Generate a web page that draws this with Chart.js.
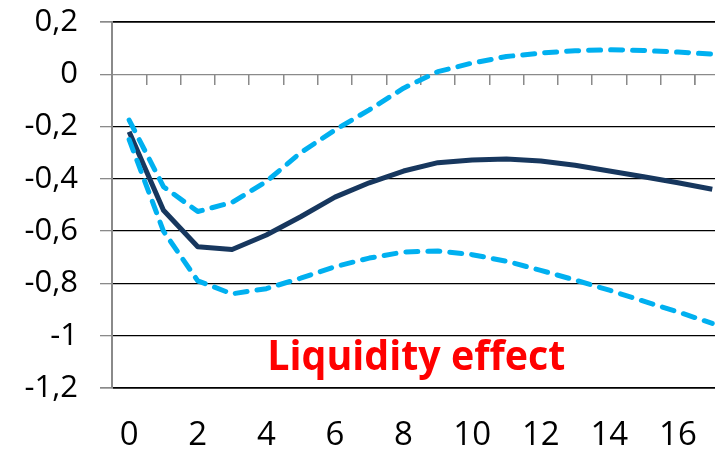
<!DOCTYPE html>
<html lang="en">
<head>
<meta charset="UTF-8" />
<title>Liquidity effect</title>
<script src="https://cdn.jsdelivr.net/npm/chart.js"></script>
<style>
  body { margin: 0; background: #fff; }
  .chart_container { width: 715px; height: 452px; }
</style>
</head>
<body>
<div class="chart_container"><canvas id="myChart"></canvas></div>
<script>
// impulse response, horizons 0..17
const horizons = [0, 1, 2, 3, 4, 5, 6, 7, 8, 9, 10, 11, 12, 13, 14, 15, 16, 17];
const response = [-0.22, -0.52, -0.66, -0.67, -0.615, -0.545, -0.47, -0.415, -0.37, -0.338, -0.328, -0.324, -0.332, -0.348, -0.37, -0.392, -0.415, -0.44];
const upperBand = [-0.175, -0.43, -0.525, -0.49, -0.41, -0.3, -0.213, -0.136, -0.053, 0.01, 0.043, 0.068, 0.081, 0.09, 0.094, 0.091, 0.085, 0.077];
const lowerBand = [-0.25, -0.6, -0.79, -0.84, -0.82, -0.78, -0.736, -0.703, -0.68, -0.676, -0.69, -0.715, -0.75, -0.787, -0.826, -0.868, -0.909, -0.953];

const xTickLabels = [0, 2, 4, 6, 8, 10, 12, 14, 16];
const yTickValues = [0.2, 0, -0.2, -0.4, -0.6, -0.8, -1, -1.2];

const toPoints = (arr) => horizons.map((h, i) => ({ x: h, y: arr[i] }));

const GRAY = '#8a8a8a';
const xMin = -0.5, xMax = 17.08;

const labelPlugin = {
  id: 'liquidityLabel',
  afterDraw(chart) {
    const { ctx, scales } = chart;
    ctx.save();
    ctx.fillStyle = '#ff0000';
    ctx.font = 'bold 41px "Open Sans", sans-serif';
    ctx.textAlign = 'center';
    ctx.textBaseline = 'alphabetic';
    ctx.fillText('Liquidity effect', scales.x.getPixelForValue(8.37), scales.y.getPixelForValue(-1.132), 298);
    ctx.restore();
  }
};

const config = {
  type: 'line',
  data: {
    datasets: [
      {
        label: 'Upper',
        data: toPoints(upperBand),
        borderColor: '#00b0f0',
        borderWidth: 5,
        borderDash: [12, 10],
        borderCapStyle: 'round',
        borderJoinStyle: 'round',
        pointRadius: 0,
        tension: 0
      },
      {
        label: 'Lower',
        data: toPoints(lowerBand),
        borderColor: '#00b0f0',
        borderWidth: 5,
        borderDash: [12, 10],
        borderCapStyle: 'round',
        borderJoinStyle: 'round',
        pointRadius: 0,
        tension: 0
      },
      {
        label: 'Response',
        data: toPoints(response),
        borderColor: '#17375e',
        borderWidth: 5,
        borderJoinStyle: 'round',
        pointRadius: 0,
        tension: 0
      }
    ]
  },
  options: {
    responsive: true,
    maintainAspectRatio: false,
    animation: false,
    layout: { padding: { top: 22, left: 0, right: 0, bottom: 0 } },
    plugins: {
      legend: { display: false },
      tooltip: { enabled: false }
    },
    scales: {
      x: {
        type: 'linear',
        position: 'bottom',
        min: xMin,
        max: xMax,
        afterBuildTicks: (scale) => {
          scale.ticks = xTickLabels.map((v) => ({ value: v }));
        },
        afterFit: (scale) => {
          scale.height = 64;
          scale.paddingLeft = 0;
          scale.paddingRight = 0;
        },
        grid: { display: false, drawTicks: false },
        border: { display: false },
        ticks: {
          color: '#000',
          font: { family: '"Open Sans", sans-serif', size: 33 },
          padding: 28,
          maxRotation: 0,
          autoSkip: false,
          callback: (v) => String(v)
        }
      },
      xMarks: {
        type: 'linear',
        position: { y: 0 },
        min: xMin,
        max: xMax,
        afterBuildTicks: (scale) => {
          scale.ticks = horizons.map((h) => ({ value: h - 0.5 })).concat([{ value: 16.5 }]).filter((t) => t.value > xMin);
        },
        grid: { drawOnChartArea: false, drawTicks: true, tickLength: 11, color: GRAY, lineWidth: 1.5 },
        border: { display: false },
        ticks: { display: false }
      },
      y: {
        min: -1.2,
        max: 0.2,
        afterBuildTicks: (scale) => {
          scale.ticks = yTickValues.map((v) => ({ value: v }));
        },
        afterFit: (scale) => {
          scale.width = 112;
          scale.paddingTop = 0;
          scale.paddingBottom = 0;
        },
        grid: {
          color: (ctx) => (ctx.tick && ctx.tick.value === 0 ? GRAY : '#000'),
          lineWidth: (ctx) => (ctx.tick && (ctx.tick.value === 0.2 || ctx.tick.value === -1.2) ? 1.7 : 1.3),
          tickColor: GRAY,
          tickLength: 12
        },
        border: { display: true, color: GRAY, width: 2 },
        ticks: {
          color: '#000',
          padding: 22,
          font: { family: '"Open Sans", sans-serif', size: 31 },
          callback: (v) => String(Math.round(v * 10) / 10).replace('.', ',')
        }
      }
    }
  },
  plugins: [labelPlugin]
};

new Chart(document.getElementById('myChart'), config);
</script>
</body>
</html>
